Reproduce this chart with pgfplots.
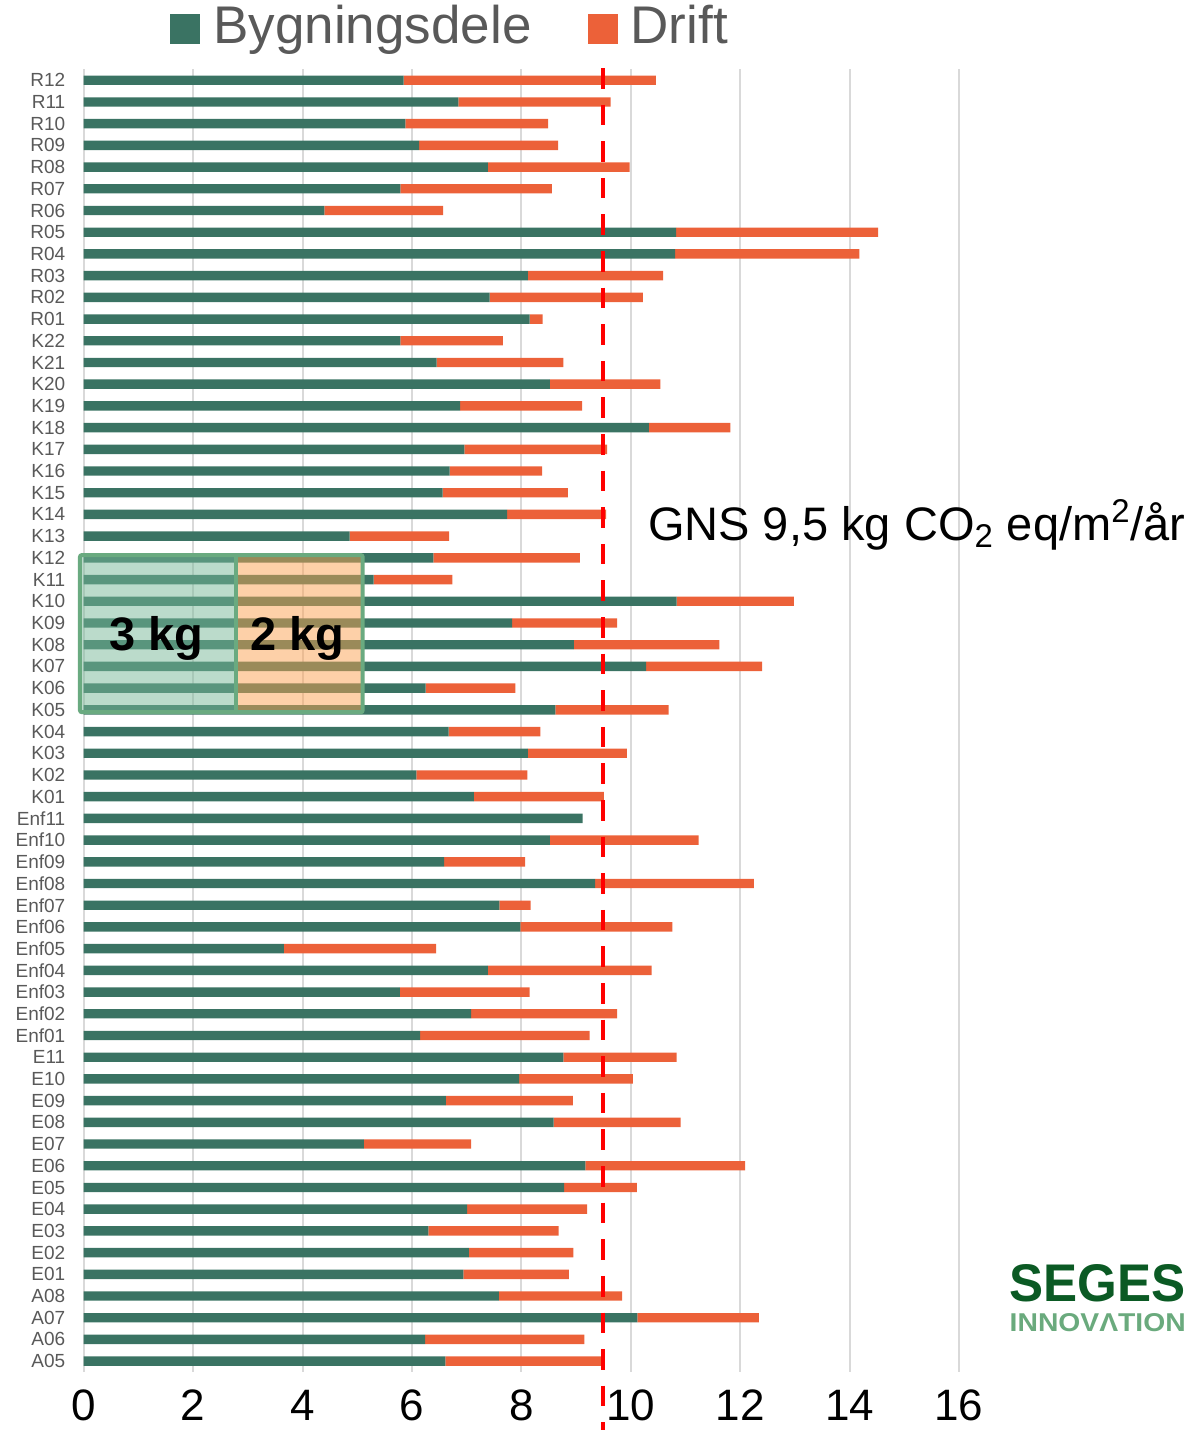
\documentclass[border=0pt]{standalone}
\usepackage{pgfplots}
\pgfplotsset{compat=1.18}
\usepackage{pgfplotstable}
\usepackage{fontspec}
\setmainfont{Liberation Sans}
\definecolor{bygc}{HTML}{3A7363}
\definecolor{driftc}{HTML}{EC6139}
\definecolor{labgrey}{HTML}{595959}
\definecolor{gridc}{HTML}{D9D9D9}
\definecolor{boxgreen}{HTML}{6AAA80}
\definecolor{boxfillg}{HTML}{78B898}
\definecolor{boxfillo}{HTML}{FBA151}
\definecolor{segesdark}{HTML}{0B5A24}
\definecolor{segeslight}{HTML}{6AAA7D}

\pgfplotstableread{
idx label bygn drift
0 A05 6.61 2.90
1 A06 6.24 2.91
2 A07 10.12 2.22
3 A08 7.59 2.25
4 E01 6.94 1.93
5 E02 7.04 1.91
6 E03 6.30 2.38
7 E04 7.01 2.19
8 E05 8.78 1.33
9 E06 9.17 2.92
10 E07 5.12 1.96
11 E08 8.59 2.32
12 E09 6.62 2.32
13 E10 7.96 2.08
14 E11 8.77 2.07
15 Enf01 6.15 3.10
16 Enf02 7.08 2.67
17 Enf03 5.78 2.37
18 Enf04 7.39 2.99
19 Enf05 3.66 2.78
20 Enf06 7.98 2.78
21 Enf07 7.60 0.57
22 Enf08 9.35 2.90
23 Enf09 6.59 1.48
24 Enf10 8.52 2.72
25 Enf11 9.12 0.00
26 K01 7.13 2.38
27 K02 6.08 2.03
28 K03 8.12 1.81
29 K04 6.67 1.68
30 K05 8.62 2.07
31 K06 6.25 1.64
32 K07 10.28 2.12
33 K08 8.96 2.66
34 K09 7.83 1.92
35 K10 10.84 2.14
36 K11 5.30 1.44
37 K12 6.39 2.68
38 K13 4.86 1.82
39 K14 7.74 1.81
40 K15 6.56 2.29
41 K16 6.69 1.69
42 K17 6.96 2.61
43 K18 10.33 1.49
44 K19 6.88 2.23
45 K20 8.52 2.02
46 K21 6.45 2.32
47 K22 5.79 1.87
48 R01 8.15 0.24
49 R02 7.42 2.80
50 R03 8.12 2.47
51 R04 10.81 3.37
52 R05 10.83 3.69
53 R06 4.40 2.17
54 R07 5.79 2.77
55 R08 7.39 2.59
56 R09 6.13 2.54
57 R10 5.88 2.61
58 R11 6.85 2.78
59 R12 5.85 4.61
}\datatable

\begin{document}
\begin{tikzpicture}
\begin{axis}[
  at={(0,0)}, anchor=south west,
  scale only axis,
  width=437.65pt, height=651.3pt,
  xbar stacked,
  bar width=4.7pt,
  xmin=0, xmax=16,
  ymin=-0.5, ymax=59.5,
  xtick={0,2,...,16},
  ytick={0,...,59},
  yticklabels from table={\datatable}{label},
  major tick length=0pt,
  axis line style={draw=none},
  xmajorgrids,
  grid style={gridc, line width=1pt},
  /pgf/number format/assume math mode=true,
  xticklabel style={font=\fontsize{22pt}{24pt}\selectfont, text=black, yshift=-5.5pt},
  yticklabel style={font=\fontsize{9.5pt}{10pt}\selectfont, text=labgrey, xshift=-5.7pt},
  clip=false,
  legend columns=2,
  legend style={
    at={(0.0986,1.0335)}, anchor=west,
    draw=none, fill=none, inner sep=0pt,
    font=\fontsize{26.5pt}{30pt}\selectfont, text=labgrey,
    nodes={inner xsep=0pt, inner ysep=0pt},
    /tikz/every odd column/.append style={column sep=6.5pt},
    /tikz/every even column/.append style={column sep=28pt},
  },
  legend image code/.code={\fill[#1] (0pt,-9pt) rectangle (15pt,6pt);},
]
\addplot[fill=bygc, draw=none] table[x=bygn, y=idx]{\datatable};
\addplot[fill=driftc, draw=none] table[x=drift, y=idx]{\datatable};
\legend{Bygningsdele, Drift}

% reference points for overlays
\coordinate (boxA) at (axis cs:-0.068,29.89);
\coordinate (boxB) at (axis cs:2.78,37.13);
\coordinate (boxC) at (axis cs:2.78,29.89);
\coordinate (boxD) at (axis cs:5.10,37.13);
\coordinate (lab3) at (axis cs:1.33,32.75);
\coordinate (lab2) at (axis cs:3.90,32.75);
\coordinate (avgT) at (axis cs:9.5,59.56);
\coordinate (avgB) at (axis cs:9.5,-3.3);

\node[anchor=base west, inner sep=0pt, font=\fontsize{23.5pt}{26pt}\selectfont] at (axis cs:10.31,37.82) {GNS 9,5 kg CO\textsubscript{2} eq/m\textsuperscript{2}/år};

% logo
\node[anchor=south west, inner sep=0pt, text=segesdark] at (axis cs:16.92,2.72) {\resizebox{88pt}{18.5pt}{\bfseries SEGES}};
\node[anchor=south west, inner sep=0pt, text=segeslight] at (axis cs:16.92,1.34) {\resizebox{88pt}{9pt}{\bfseries INNOVΛTION}};
\end{axis}

% overlay box on top of the bars
\fill[boxfillg, fill opacity=0.5] (boxA) rectangle (boxB);
\fill[boxfillo, fill opacity=0.5] (boxC) rectangle (boxD);
\draw[boxgreen, line width=2pt, rounded corners=1pt] (boxA) rectangle (boxD);
\draw[boxgreen, line width=2pt] (boxC) -- (boxB);
\node[anchor=base, font=\fontsize{23.5pt}{26pt}\selectfont\bfseries] at (lab3) {3 kg};
\node[anchor=base, font=\fontsize{23.5pt}{26pt}\selectfont\bfseries] at (lab2) {2 kg};
% average line
\draw[red, line width=2pt, dash pattern=on 10.3pt off 8pt] (avgT) -- (avgB);

\pgfresetboundingbox
\path[use as bounding box] (-41.85pt,-29pt) rectangle (559.15pt,686pt);
\end{tikzpicture}
\end{document}
